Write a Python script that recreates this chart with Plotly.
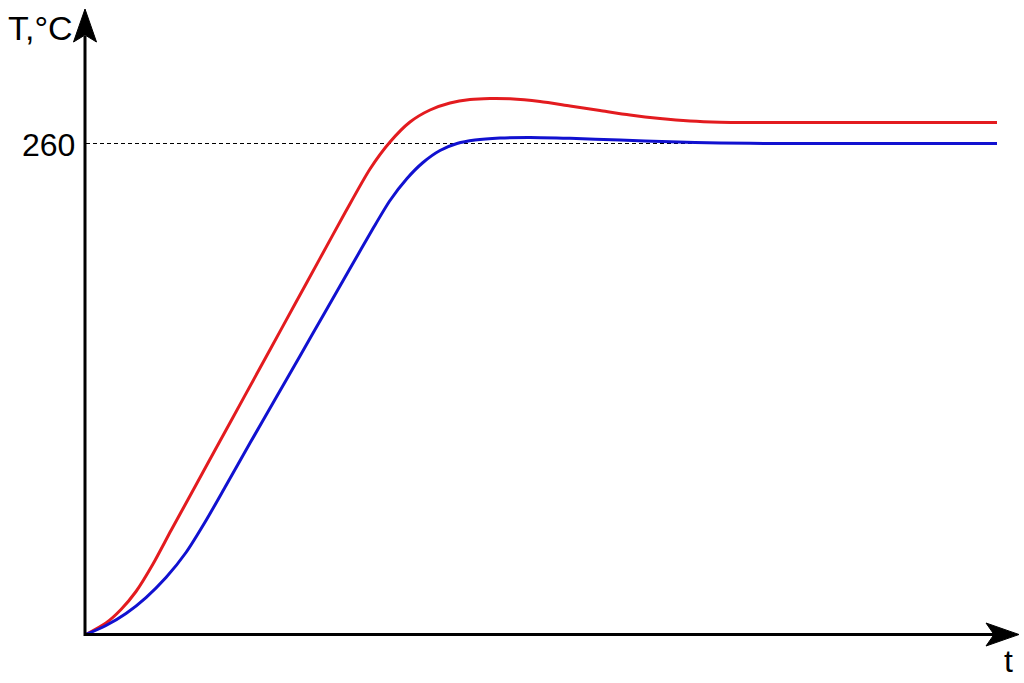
import plotly.graph_objects as go

# ---- data (t in arbitrary units, T in °C) ----
red_t = [0, 2.0, 3.5, 5.0, 6.7, 8.5, 10.9, 13.4, 15.9, 18.4, 20.9, 23.4, 25.9, 28.4,
         30.4, 32.4, 34.4, 36.4, 38.4, 40.4, 42.4, 45.4, 48.4, 51.4, 54.4, 57.4,
         60.4, 63.4, 66.4, 91.1]
red_T = [0, 6.09, 13.24, 22.77, 37.33, 55.07, 78.26, 102.46, 126.61, 150.81, 174.96, 199.16,
         223.30, 246.50, 260.79, 271.38, 277.74, 281.45, 283.30, 283.83, 283.67, 282.24,
         279.86, 277.47, 275.09, 273.24, 271.92, 271.28, 271.12, 271.12]

blue_t = [0, 2.0, 4.0, 6.0, 8.0, 10.0, 12.0, 14.0, 16.4, 18.9, 21.4, 23.9, 26.4, 28.7,
          30.4, 32.1, 33.7, 35.4, 37.1, 38.9, 41.4, 44.4, 48.4, 53.4, 58.4, 63.4, 68.4, 91.1]
blue_T = [0, 4.77, 11.12, 19.59, 30.18, 43.42, 60.37, 78.90, 101.35, 124.44, 147.53, 170.67,
          193.75, 214.99, 229.82, 241.47, 249.94, 256.29, 260.00, 261.85, 262.91, 263.18,
          262.75, 261.85, 260.90, 260.26, 260.00, 260.00]

setpoint = 260
setpoint_label = "260"
y_label = "T,°C"
x_label = "t"

# ---- geometry helpers (page pixels -> data units, for decorations only) ----
K = 260 / 491.0
def X(px):
    return (px - 86) / 10.0
def Y(py):
    return (634.5 - py) * K

fig = go.Figure()

fig.add_trace(go.Scatter(x=red_t, y=red_T, mode="lines",
                         line=dict(color="#e31b1f", width=3, shape="spline", smoothing=0.7),
                         hoverinfo="skip", showlegend=False))
fig.add_trace(go.Scatter(x=blue_t, y=blue_T, mode="lines",
                         line=dict(color="#1111d0", width=3, shape="spline", smoothing=0.7),
                         hoverinfo="skip", showlegend=False))

shapes = []
# dashed setpoint line
shapes.append(dict(type="line", x0=0, x1=X(997), y0=setpoint, y1=setpoint,
                   line=dict(color="black", width=1, dash="4px,3px"), layer="below"))
# axes
shapes.append(dict(type="line", x0=X(85), x1=X(996), y0=Y(634.5), y1=Y(634.5),
                   line=dict(color="black", width=3)))
shapes.append(dict(type="line", x0=X(85), x1=X(85), y0=Y(636), y1=Y(36),
                   line=dict(color="black", width=3)))
# arrowheads
def path(pts):
    return "M " + " L ".join(f"{X(a)},{Y(b)}" for a, b in pts) + " Z"
shapes.append(dict(type="path", path=path([(85, 9), (96.5, 42), (85, 35), (73.5, 42)]),
                   fillcolor="black", line=dict(color="black", width=1)))
shapes.append(dict(type="path", path=path([(1019, 634.5), (986, 623), (994, 634.5), (986, 646)]),
                   fillcolor="black", line=dict(color="black", width=1)))

annotations = [
    dict(x=X(6), y=Y(28), text=y_label, showarrow=False, xanchor="left", yanchor="middle",
         font=dict(family="Liberation Sans, Arial", size=34, color="black")),
    dict(x=X(77), y=Y(145), text=setpoint_label, showarrow=False, xanchor="right", yanchor="middle",
         font=dict(family="Liberation Sans, Arial", size=32, color="black")),
    dict(x=X(1008), y=Y(661), text=x_label, showarrow=False, xanchor="center", yanchor="middle",
         font=dict(family="Liberation Sans, Arial", size=32, color="black")),
]

fig.update_layout(
    width=1024, height=683,
    margin=dict(l=0, r=0, t=0, b=0),
    paper_bgcolor="white", plot_bgcolor="white",
    xaxis=dict(range=[X(0), X(1024)], visible=False, fixedrange=True),
    yaxis=dict(range=[Y(683), Y(0)], visible=False, fixedrange=True),
    shapes=shapes, annotations=annotations,
    showlegend=False,
)

fig.write_html("out.html", config={"displayModeBar": False})
